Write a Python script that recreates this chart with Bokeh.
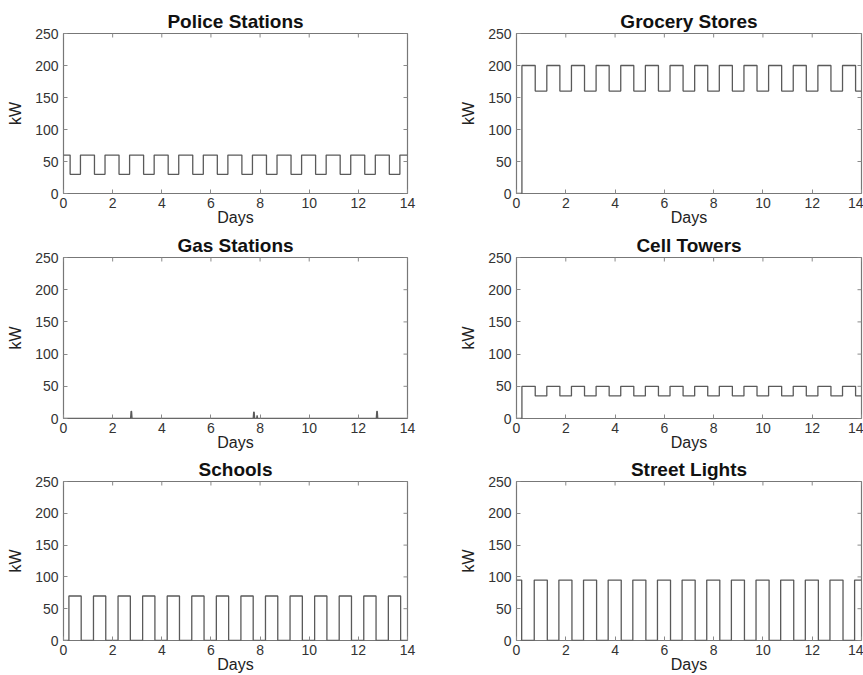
import math
from bokeh.plotting import figure
from bokeh.layouts import column, row
from bokeh.models import Range1d, FixedTicker
from bokeh.embed import file_html
from bokeh.resources import INLINE

days_ticks = [0, 2, 4, 6, 8, 10, 12, 14]
kw_ticks = [0, 50, 100, 150, 200, 250]

police_t = [0, 0.27, 0.69, 1.26, 1.69, 2.26, 2.69, 3.26, 3.69, 4.26, 4.69, 5.26, 5.69, 6.26, 6.69,
            7.26, 7.69, 8.26, 8.69, 9.26, 9.69, 10.26, 10.69, 11.26, 11.69, 12.26, 12.69, 13.26, 13.69, 14]
police_kw = [60, 30, 60, 30, 60, 30, 60, 30, 60, 30, 60, 30, 60, 30, 60,
             30, 60, 30, 60, 30, 60, 30, 60, 30, 60, 30, 60, 30, 60, 60]

grocery_t = [0, 0.22, 0.76, 1.23, 1.76, 2.23, 2.76, 3.23, 3.76, 4.23, 4.76, 5.23, 5.76, 6.23, 6.76,
             7.23, 7.76, 8.23, 8.76, 9.23, 9.76, 10.23, 10.76, 11.23, 11.76, 12.23, 12.76, 13.23, 13.76, 14]
grocery_kw = [0, 200, 160, 200, 160, 200, 160, 200, 160, 200, 160, 200, 160, 200, 160,
              200, 160, 200, 160, 200, 160, 200, 160, 200, 160, 200, 160, 200, 160, 160]

gas_t = [0, 2.73, 2.75, 2.77, 2.79, 7.72, 7.74, 7.76, 7.78, 7.86, 7.88, 7.90, 12.73, 12.75, 12.77, 12.79, 14]
gas_kw = [0, 0, 11, 11, 0, 0, 10, 10, 0, 0, 5, 0, 0, 11, 11, 0, 0]

cell_t = [0, 0.22, 0.76, 1.23, 1.76, 2.23, 2.76, 3.23, 3.76, 4.23, 4.76, 5.23, 5.76, 6.23, 6.76,
          7.23, 7.76, 8.23, 8.76, 9.23, 9.76, 10.23, 10.76, 11.23, 11.76, 12.23, 12.76, 13.23, 13.76, 14]
cell_kw = [0, 50, 35, 50, 35, 50, 35, 50, 35, 50, 35, 50, 35, 50, 35,
           50, 35, 50, 35, 50, 35, 50, 35, 50, 35, 50, 35, 50, 35, 35]

schools_t = [0, 0.22, 0.72, 1.22, 1.72, 2.22, 2.72, 3.22, 3.72, 4.22, 4.72, 5.22, 5.72, 6.22, 6.72,
             7.22, 7.72, 8.22, 8.72, 9.22, 9.72, 10.22, 10.72, 11.22, 11.72, 12.22, 12.72, 13.22, 13.72, 14]
schools_kw = [0, 70, 0, 70, 0, 70, 0, 70, 0, 70, 0, 70, 0, 70, 0,
              70, 0, 70, 0, 70, 0, 70, 0, 70, 0, 70, 0, 70, 0, 0]

lights_t = [0, 0.21, 0.72, 1.25, 1.72, 2.25, 2.72, 3.25, 3.72, 4.25, 4.72, 5.25, 5.72, 6.25, 6.72,
            7.25, 7.72, 8.25, 8.72, 9.25, 9.72, 10.25, 10.72, 11.25, 11.72, 12.25, 12.72, 13.25, 13.72, 14]
lights_kw = [95, 0, 95, 0, 95, 0, 95, 0, 95, 0, 95, 0, 95, 0, 95,
             0, 95, 0, 95, 0, 95, 0, 95, 0, 95, 0, 95, 0, 95, 95]

FONT = "Liberation Sans"
LINE = "#5a5a5a"
FRAME = "#777777"
TEXT = "#333333"
TICK = "#8a8a8a"


def style_axis(ax, ticks):
    ax.ticker = FixedTicker(ticks=ticks)
    ax.major_tick_in = 4
    ax.major_tick_out = 0
    ax.minor_tick_line_color = None
    ax.axis_line_color = None
    ax.major_tick_line_color = TICK
    ax.major_label_text_font = FONT
    ax.major_label_text_font_size = "14px"
    ax.major_label_text_color = TEXT
    ax.axis_label_text_font = FONT
    ax.axis_label_text_font_size = "16px"
    ax.axis_label_text_font_style = "normal"
    ax.axis_label_text_color = "#222222"


def panel(title, xs, ys, width, height, bl, br, bt, bb, kind="step"):
    p = figure(width=width, height=height, output_backend="svg", toolbar_location=None,
               x_range=Range1d(0, 14), y_range=Range1d(0, 250),
               min_border_left=bl, min_border_right=br, min_border_top=bt, min_border_bottom=bb)
    p.title.text = title
    p.title.align = "center"
    p.title.text_font = FONT
    p.title.text_font_size = "19px"
    p.title.text_font_style = "bold"
    p.title.text_color = "#111111"
    p.title.standoff = 3
    p.grid.visible = False
    p.outline_line_color = FRAME
    p.outline_line_width = 1.2

    style_axis(p.xaxis[0], days_ticks)
    style_axis(p.yaxis[0], kw_ticks)
    p.xaxis.axis_label = "Days"
    p.yaxis.axis_label = "kW"
    p.xaxis.major_label_standoff = 4
    p.xaxis.axis_label_standoff = -2
    p.yaxis.major_label_standoff = 5
    p.yaxis.axis_label_standoff = 8

    # mirrored inward ticks on the top and right edges of the box
    p.scatter(days_ticks, [250] * len(days_ticks), marker="dash", size=8, angle=math.pi / 2,
              line_color=TICK, line_width=1)
    p.scatter([14] * len(kw_ticks), kw_ticks, marker="dash", size=8,
              line_color=TICK, line_width=1)

    if kind == "step":
        p.step(xs, ys, mode="after", line_color=LINE, line_width=1.3)
    else:
        p.line(xs, ys, line_color=LINE, line_width=1.3)
    return p


LW, RW = 440, 423
p1 = panel("Police Stations", police_t, police_kw, LW, 230, 63, 33, 33, 37)
p2 = panel("Grocery Stores", grocery_t, grocery_kw, RW, 230, 76, 2, 33, 37)
p3 = panel("Gas Stations", gas_t, gas_kw, LW, 225, 63, 33, 27, 37, kind="line")
p4 = panel("Cell Towers", cell_t, cell_kw, RW, 225, 76, 2, 27, 37)
p5 = panel("Schools", schools_t, schools_kw, LW, 220, 63, 33, 26, 35)
p6 = panel("Street Lights", lights_t, lights_kw, RW, 220, 76, 2, 26, 35)

layout = column(row(p1, p2), row(p3, p4), row(p5, p6))

open("out.html", "w").write(file_html(layout, INLINE))
